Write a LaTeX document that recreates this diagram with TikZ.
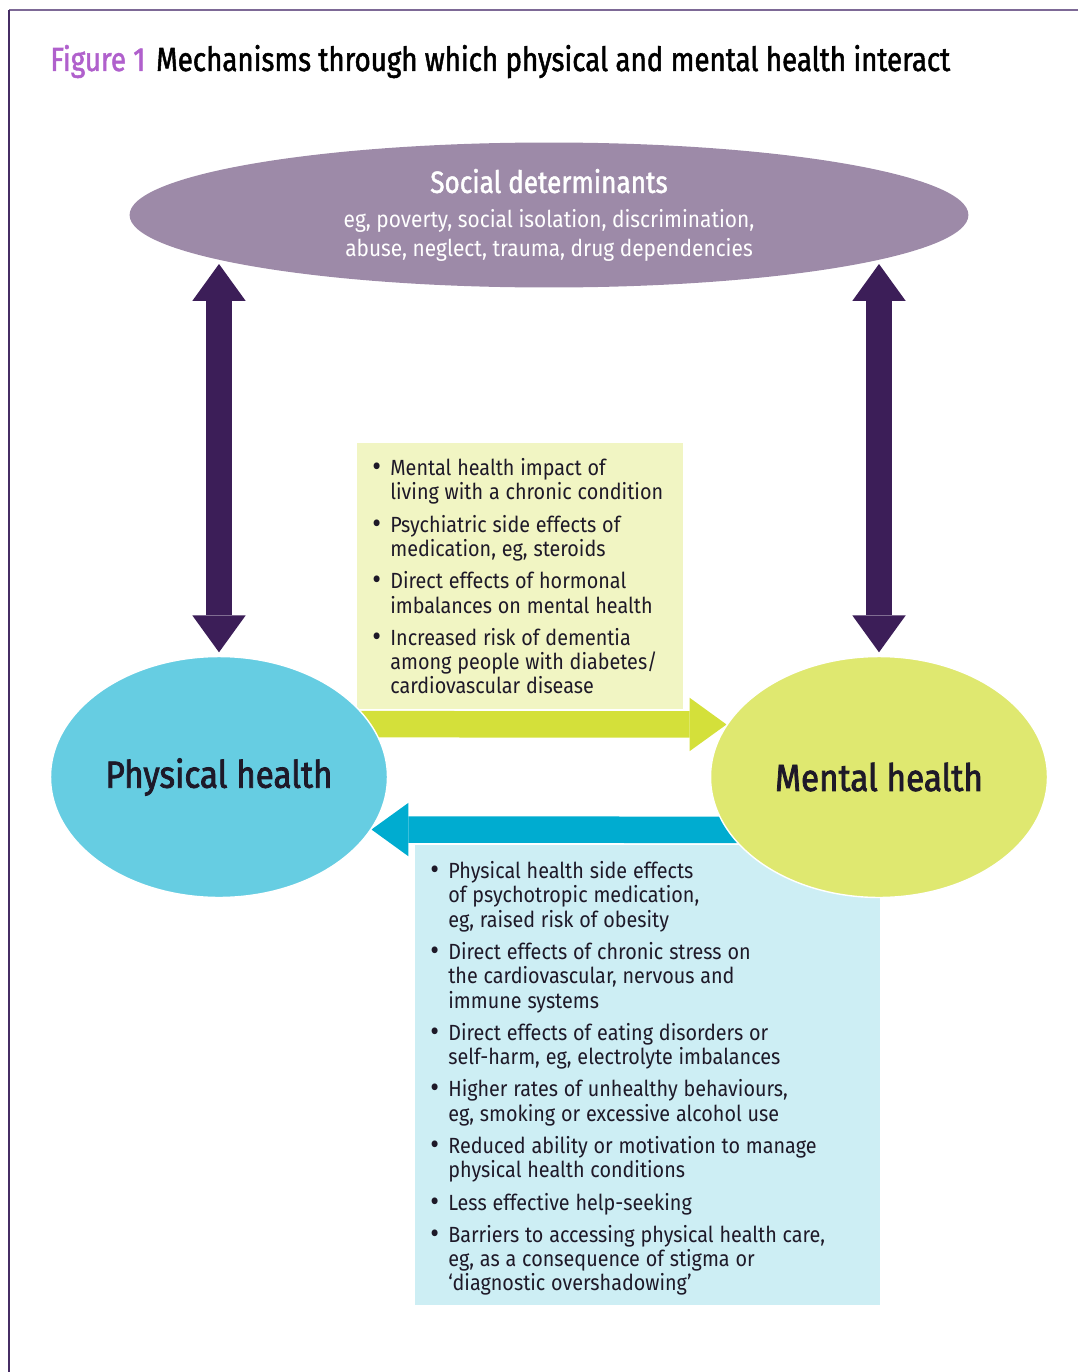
\documentclass[tikz,border=0pt]{standalone}
\usepackage{fontspec}
\setmainfont{Fira Sans}[FakeStretch=0.9]
\newfontfamily\headfont{Fira Sans}[FakeStretch=0.85,FakeBold=1.5]
\newfontfamily\titlefont{Fira Sans}[FakeStretch=0.83,FakeBold=1.5]
\newfontfamily\labelfont{Fira Sans}[FakeStretch=0.88,FakeBold=2]
\usepackage{tikz}
\usetikzlibrary{shapes.geometric}
\usetikzlibrary{arrows.meta}

\pgfdeclarelayer{bg}
\pgfsetlayers{bg,main}

\definecolor{topframe}{RGB}{125,105,150}
\definecolor{leftframe}{RGB}{70,45,100}
\definecolor{figpurple}{RGB}{176,96,204}
\definecolor{socialcol}{RGB}{157,138,168}
\definecolor{darkarrow}{RGB}{60,30,88}
\definecolor{physcol}{RGB}{102,205,226}
\definecolor{mentcol}{RGB}{223,232,112}
\definecolor{yboxcol}{RGB}{241,245,195}
\definecolor{bboxcol}{RGB}{205,238,244}
\definecolor{greenarrow}{RGB}{212,224,58}
\definecolor{bluearrow}{RGB}{0,172,208}
\definecolor{textcol}{RGB}{30,25,40}

% bullet item with hanging indent
\newcommand{\bitem}[1]{\par\noindent\hangindent=0.36cm\hangafter=1\makebox[0.36cm][l]{\fontsize{17}{13}\selectfont\raisebox{-0.6pt}{\textbullet}}#1}
\newcommand{\bodytext}{\fontsize{12.5}{13.85}\selectfont\setlength{\parskip}{4.5pt}}

\begin{document}
\begin{tikzpicture}[x=0.02cm, y=-0.02cm,
    bubble/.style={ellipse, inner sep=0pt, draw=white, line width=0.8pt,
      minimum width=6.74cm, minimum height=4.82cm, text=textcol,
      font=\labelfont\fontsize{21.5}{25}\selectfont},
    infobox/.style={rectangle, anchor=north west, inner xsep=0.3cm, inner ysep=0pt,
      align=left, text=textcol},
    bigarrow/.style={line width=0.53cm}]
    % Tip sizes of the big arrows
    \def\tipw{1.07cm}
    \def\tipl{0.74cm}

    \useasboundingbox (0,0) rectangle (1078,1372);

    % Draw the frame
    \draw[topframe, line width=0.05cm] (1078,10) -- (9,10);
    \draw[leftframe, line width=0.05cm] (9,10) -- (9,1372);

    % Title
    \node[anchor=base west, inner sep=0pt, font=\titlefont\fontsize{19}{22}\selectfont] (title) at (50,71)
        {\textcolor{figpurple}{Figure 1}\hspace{2pt} Mechanisms through which physical and mental health interact};

    % Social determinants
    \node[ellipse, inner sep=0pt, fill=socialcol, minimum width=16.78cm, minimum height=2.9cm,
        align=center, text=white, font=\fontsize{13.2}{16.5}\selectfont] (social) at (549,215)
        {{\headfont\fontsize{17.5}{19}\selectfont Social determinants}\\[3pt]
         eg, poverty, social isolation, discrimination,\\
         abuse, neglect, trauma, drug dependencies};

    % Boxes with the mechanisms
    \node[infobox, fill=yboxcol, minimum width=6.52cm, minimum height=5.26cm, text width=5.92cm] (mhbox) at (357,443)
        {\bodytext
         \bitem{Mental health impact of\newline living with a chronic condition}
         \bitem{Psychiatric side effects of\newline medication, eg, steroids}
         \bitem{Direct effects of hormonal\newline imbalances on mental health}
         \bitem{Increased risk of dementia\newline among people with diabetes/\newline cardiovascular disease}
         \par\vspace{8.5pt}};

    \node[infobox, fill=bboxcol, minimum width=9.3cm, minimum height=9.2cm, text width=8.7cm] (phbox) at (415,845)
        {\bodytext
         \bitem{Physical health side effects\newline of psychotropic medication,\newline eg, raised risk of obesity}
         \bitem{Direct effects of chronic stress on\newline the cardiovascular, nervous and\newline immune systems}
         \bitem{Direct effects of eating disorders or\newline self-harm, eg, electrolyte imbalances}
         \bitem{Higher rates of unhealthy behaviours,\newline eg, smoking or excessive alcohol use}
         \bitem{Reduced ability or motivation to manage\newline physical health conditions}
         \bitem{Less effective help-seeking}
         \bitem{Barriers to accessing physical health care,\newline eg, as a consequence of stigma or\newline ‘diagnostic overshadowing’}
         \par\vspace{5pt}};

    % Physical and mental health
    \node[bubble, fill=physcol] (phys) at (219,777) {Physical health};
    \node[bubble, fill=mentcol] (ment) at (879,777) {Mental health};

    \coordinate (socl) at (219,264);
    \coordinate (socr) at (879,264);

    % Draw the arrows
    \begin{pgfonlayer}{bg}
    \draw[bigarrow, darkarrow, {Triangle[width=\tipw,length=\tipl,line width=0pt]}-{Triangle[width=\tipw,length=\tipl,line width=0pt]}]
        (socl) -- ([yshift=2pt]phys.north);
    \draw[bigarrow, darkarrow, {Triangle[width=\tipw,length=\tipl,line width=0pt]}-{Triangle[width=\tipw,length=\tipl,line width=0pt]}]
        (socr) -- ([yshift=2pt]ment.north);
    \draw[bigarrow, greenarrow, -{Triangle[width=\tipw,length=\tipl,line width=0pt]}]
        ([yshift=1.06cm]phys.center) -- (ment.161.5);
    \draw[bigarrow, bluearrow, -{Triangle[width=\tipw,length=\tipl,line width=0pt]}]
        ([yshift=-1.06cm]ment.center) -- (phys.-19.3);
    \end{pgfonlayer}
\end{tikzpicture}
\end{document}
